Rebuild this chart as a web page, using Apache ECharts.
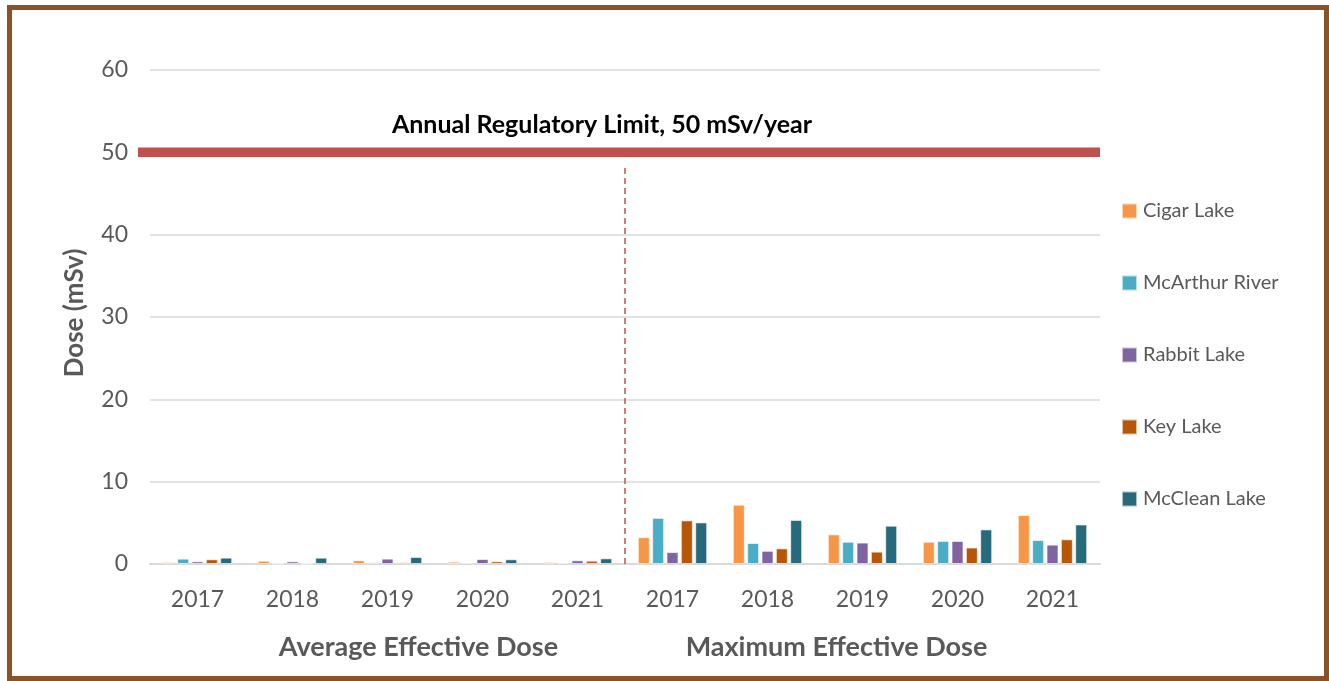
<!DOCTYPE html>
<html>
<head>
<meta charset="utf-8">
<script src="https://cdn.jsdelivr.net/npm/echarts@6/dist/echarts.min.js"></script>
<style>
html,body{margin:0;padding:0;background:#fff;}
#wrap{position:relative;width:1329px;height:681px;overflow:hidden;}
#chart{position:absolute;left:0;top:0;width:1329px;height:681px;}
#frame{position:absolute;left:7px;top:5px;width:1312px;height:666px;border:5px solid #8B5128;pointer-events:none;}
</style>
</head>
<body>
<div id="wrap"><div id="chart"></div><div id="frame"></div></div>
<script>
const categories = ['2017','2018','2019','2020','2021','2017','2018','2019','2020','2021'];
const groupLabels = ['Average Effective Dose','Maximum Effective Dose'];
const seriesNames = ['Cigar Lake','McArthur River','Rabbit Lake','Key Lake','McClean Lake'];
const cigarLake     = [0.24, 0.4, 0.45, 0.28, 0.24, 3.25, 7.2, 3.6, 2.7, 5.95];
const mcarthurRiver = [0.65, 0.05, 0.2, 0.16, 0.16, 5.6, 2.55, 2.7, 2.8, 2.9];
const rabbitLake    = [0.32, 0.32, 0.65, 0.6, 0.45, 1.45, 1.6, 2.6, 2.8, 2.35];
const keyLake       = [0.57, 0.05, 0.2, 0.32, 0.4, 5.3, 1.9, 1.5, 2.0, 3.0];
const mccleanLake   = [0.77, 0.77, 0.85, 0.57, 0.69, 5.05, 5.35, 4.65, 4.2, 4.8];
const yTicks = [0, 10, 20, 30, 40, 50, 60];
const limitValue = 50;
const limitLabel = 'Annual Regulatory Limit, 50 mSv/year';
const dividerX = [5, 5];
const dividerY = [0, 48.4];
const limitX = [0, 1];

const colors = ['#F79646','#4BACC6','#8064A2','#B65708','#276A7C'];
const seriesData = [cigarLake, mcarthurRiver, rabbitLake, keyLake, mccleanLake];
const FONT = 'Lato';
const GRAY = '#595959';

const chart = echarts.init(document.getElementById('chart'));
const barSeries = seriesNames.map((n, i) => ({
  name: n, type: 'bar', xAxisIndex: 0, yAxisIndex: 0,
  data: seriesData[i],
  barGap: '20%', barCategoryGap: '27%',
  itemStyle: { color: colors[i], borderColor: 'rgba(255,255,255,0.6)', borderWidth: 1 },
  emphasis: { disabled: true }
}));

chart.setOption({
  animation: false,
  color: colors,
  textStyle: { fontFamily: FONT },
  title: {
    text: limitLabel, left: 597, top: 107, textAlign: 'center',
    textStyle: { fontFamily: FONT, fontWeight: 'bold', fontSize: 25, color: '#000' }
  },
  legend: {
    orient: 'vertical', left: 1116, top: 196, itemGap: 52,
    itemWidth: 15, itemHeight: 15, icon: 'rect',
    data: seriesNames,
    textStyle: { fontFamily: FONT, fontSize: 20, color: GRAY, padding: [0,0,0,1] }
  },
  grid: [
    { left: 150, right: 229, top: 70, bottom: 117 },
    { left: 138, right: 229, top: 70, bottom: 117 }
  ],
  xAxis: [
    {
      type: 'category', data: categories, position: 'bottom', gridIndex: 0,
      axisLine: { lineStyle: { color: '#D9D9D9', width: 2 } },
      axisTick: { show: false },
      axisLabel: { color: GRAY, fontSize: 23, margin: 24, fontFamily: FONT }
    },
    { type: 'value', min: 0, max: 10, show: false, gridIndex: 0 },
    {
      type: 'category', data: groupLabels, position: 'bottom', offset: 46, gridIndex: 0,
      axisLine: { show: false }, axisTick: { show: false },
      axisLabel: {
        margin: 24,
        formatter: (v, i) => (i === 0 ? '{a|' : '{b|') + v + '}',
        rich: {
          a: { color: GRAY, fontSize: 27, fontWeight: 'bold', fontFamily: FONT, padding: [0, 0, 0, 62] },
          b: { color: GRAY, fontSize: 27, fontWeight: 'bold', fontFamily: FONT, padding: [0, 52, 0, 0] }
        }
      }
    },
    { type: 'value', min: 0, max: 1, show: false, gridIndex: 1 }
  ],
  yAxis: [
    {
      type: 'value', min: 0, max: 60, interval: 10, gridIndex: 0,
      name: 'Dose (mSv)', nameLocation: 'middle', nameGap: 62,
      nameTextStyle: { color: GRAY, fontSize: 26, fontWeight: 'bold', fontFamily: FONT, padding: [0, 0, 0, 8] },
      axisLine: { show: false }, axisTick: { show: false },
      splitLine: { lineStyle: { color: '#D9D9D9', width: 1.5 } },
      axisLabel: { color: GRAY, fontSize: 23, margin: 22, fontFamily: FONT,
        formatter: v => yTicks.includes(v) ? String(v) : '' }
    },
    { type: 'value', min: 0, max: 60, show: false, gridIndex: 1 }
  ],
  series: barSeries.concat([
    {
      type: 'line', xAxisIndex: 3, yAxisIndex: 1, silent: true,
      data: [[limitX[0], limitValue], [limitX[1], limitValue]],
      symbol: 'none', lineStyle: { color: '#C0504D', width: 9.5, cap: 'butt' }, z: 5
    },
    {
      type: 'line', xAxisIndex: 1, yAxisIndex: 0, silent: true,
      data: [[dividerX[0], dividerY[0]], [dividerX[1], dividerY[1]]],
      symbol: 'none', lineStyle: { color: '#C0504D', width: 1.5, type: [6, 4] }, z: 5
    }
  ])
});
</script>
</body>
</html>
